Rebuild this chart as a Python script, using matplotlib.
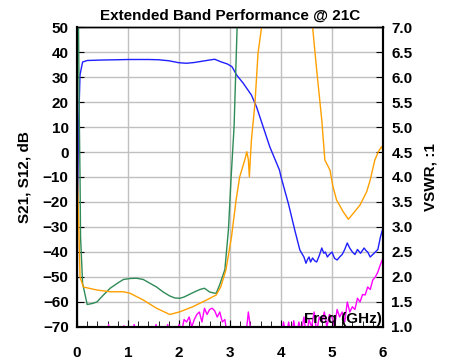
import numpy as np
import matplotlib.pyplot as plt
from matplotlib.ticker import MultipleLocator

plt.rcParams['font.family'] = ['Liberation Sans', 'DejaVu Sans']
plt.rcParams['font.weight'] = 'bold'

# S21 gain (dB, left axis)
s21_f = [0.0, 0.01, 0.03, 0.06, 0.11, 0.2, 0.5, 0.8, 1.0, 1.2, 1.4, 1.6, 1.8, 1.9, 2.0,
         2.15, 2.3, 2.45, 2.6, 2.7, 2.82, 2.95, 3.04, 3.13, 3.26, 3.42, 3.52, 3.65, 3.78,
         3.97, 4.0, 4.15, 4.27, 4.37, 4.45, 4.49, 4.52, 4.55, 4.58, 4.62, 4.66, 4.7, 4.75,
         4.8, 4.84, 4.87, 4.91, 4.94, 5.0, 5.05, 5.1, 5.15, 5.2, 5.25, 5.3, 5.35, 5.4, 5.45,
         5.5, 5.56, 5.63, 5.67, 5.7, 5.75, 5.8, 5.85, 5.9, 5.95, 6.0]
s21_db = [-75, -30, 10, 31, 36, 36.6, 36.8, 36.9, 37, 37, 37, 36.9, 36.5, 36.1, 35.7,
          35.5, 35.8, 36.3, 36.8, 37.1, 36.1, 35.2, 34.1, 30.8, 27.5, 22.8, 18.1, 10.1, 2.1,
          -7.2, -9.9, -21, -31.2, -39.2, -42, -44.5, -43, -42, -44, -42.4, -43.5, -44, -41.5,
          -38.4, -40.5, -40, -42, -41.2, -40, -42.5, -43.2, -42, -41, -39, -36.4, -38.5, -40,
          -41, -39, -40.5, -38.4, -39.5, -40, -42, -41, -40, -39, -34, -30.4]

# Input VSWR (green, right axis)
vswr_in_f = [0.0, 0.03, 0.045, 0.06, 0.07, 0.11, 0.2, 0.3, 0.39, 0.5, 0.65, 0.8, 0.91, 1.04,
             1.17, 1.3, 1.43, 1.56, 1.69, 1.82, 1.92, 2.02, 2.1, 2.2, 2.3, 2.41, 2.5, 2.6,
             2.68, 2.73, 2.8, 2.9, 2.97, 3.02, 3.08, 3.14, 3.18]
vswr_in = [7.6, 7.0, 5.2, 3.95, 2.8, 1.875, 1.45, 1.47, 1.5, 1.62, 1.775, 1.88, 1.95, 1.97,
           1.975, 1.95, 1.875, 1.8, 1.7, 1.62, 1.58, 1.575, 1.6, 1.65, 1.7, 1.75, 1.775, 1.7,
           1.68, 1.675, 1.85, 2.15, 2.95, 3.95, 5.0, 7.0, 7.6]

# Output VSWR (orange, right axis)
vswr_out_f = [0.0, 0.005, 0.01, 0.06, 0.125, 0.39, 0.65, 0.91, 1.04, 1.3, 1.56, 1.82,
              2.02, 2.27, 2.54, 2.73, 2.82, 2.92, 3.03, 3.12, 3.19, 3.29, 3.33, 3.36, 3.38,
              3.42, 3.49, 3.55, 3.62, 3.7, 4.5, 4.62, 4.7, 4.8, 4.86, 4.96, 5.02, 5.09, 5.22,
              5.32, 5.42, 5.55, 5.68, 5.75, 5.84, 5.91, 5.97, 6.0]
vswr_out = [7.6, 7.0, 4.0, 2.0, 1.8, 1.74, 1.705, 1.705, 1.675, 1.54, 1.375, 1.25,
            1.305, 1.405, 1.54, 1.64, 1.805, 2.14, 2.805, 3.54, 4.0, 4.34, 4.505, 4.35, 4.005,
            4.74, 5.475, 6.475, 7.0, 7.6, 7.8, 7.0, 6.14, 5.14, 4.34, 4.14, 3.805, 3.54, 3.305,
            3.155, 3.275, 3.44, 3.705, 3.94, 4.34, 4.505, 4.605, 4.54]

# S12 isolation (magenta, left axis)
s12_f = [0.0, 0.6, 0.62, 0.64, 0.9, 0.92, 0.94, 1.0, 1.1, 1.12, 1.2, 1.3, 1.5, 1.55, 1.6,
         1.7, 1.78, 1.8, 1.9, 1.95, 2.0, 2.05, 2.1, 2.15, 2.2, 2.25, 2.3, 2.35, 2.4, 2.45,
         2.5, 2.55, 2.6, 2.65, 2.7, 2.75, 2.8, 2.85, 2.9, 2.95, 3.0, 3.3, 3.34, 3.36, 3.38,
         3.42, 3.5, 4.0, 4.05, 4.1, 4.15, 4.2, 4.25, 4.3, 4.35, 4.4, 4.45, 4.5, 4.55, 4.6,
         4.65, 4.7, 4.75, 4.8, 4.85, 4.9, 4.95, 5.0, 5.05, 5.1, 5.15, 5.2, 5.25, 5.3, 5.35,
         5.4, 5.45, 5.5, 5.55, 5.6, 5.65, 5.7, 5.75, 5.8, 5.85, 5.9, 5.95, 6.0]
s12_db = [-74, -74, -69, -74, -74, -69.5, -74, -74, -74, -69, -74, -74, -74, -69, -74,
          -74, -69, -74, -70, -74, -69, -72, -67, -68, -66, -70, -67, -65, -64, -68,
          -62.5, -65, -63, -62.5, -63.5, -66, -64, -68, -67, -74, -74, -74, -68, -64, -67,
          -74, -74, -74, -68, -74, -68, -74, -67.5, -74, -68, -72, -66, -74, -67, -70,
          -64, -72, -66, -68, -64, -70, -65, -66, -70, -63, -66, -64, -68, -60, -64,
          -61.9, -63, -58.5, -60, -57, -57.2, -54, -55, -51.2, -50, -48, -45, -42.5]

fig = plt.figure(figsize=(4.55, 3.62), dpi=100)
ax = fig.add_axes([0.1692, 0.0967, 0.6725, 0.8287])
ax2 = ax.twinx()

ax.plot(s21_f, s21_db, color='#1f1fff', lw=1.0, zorder=3)
ax.plot(s12_f, s12_db, color='#ff00ff', lw=1.0, zorder=3)
ax2.plot(vswr_in_f, vswr_in, color='#2e8b57', lw=1.0)
ax2.plot(vswr_out_f, vswr_out, color='#ffa000', lw=1.0)

ax.set_xlim(0, 6)
ax.set_ylim(-70, 50)
ax2.set_ylim(1.0, 7.0)
ax.xaxis.set_major_locator(MultipleLocator(1))
ax.xaxis.set_minor_locator(MultipleLocator(0.2))
ax.yaxis.set_major_locator(MultipleLocator(10))
ax2.yaxis.set_major_locator(MultipleLocator(0.5))
ax2.yaxis.set_major_formatter(plt.FormatStrFormatter('%.1f'))

ax.grid(True, which='major', color='#c0c0c0', lw=1.0)
ax.set_axisbelow(True)

ax.tick_params(axis='x', which='major', direction='in', length=5, pad=14, labelsize=11)
ax.tick_params(axis='x', which='minor', direction='in', length=4)
ax.tick_params(axis='y', direction='in', length=5, pad=6, labelsize=11)
ax2.tick_params(axis='y', direction='in', length=5, pad=6, labelsize=11)

for a in (ax, ax2):
    for s in a.spines.values():
        s.set_linewidth(1.5)
    a.spines['top'].set_linewidth(1.0)

ax.set_title('Extended Band Performance @ 21C', fontsize=11, fontweight='bold', pad=5)
ax.set_ylabel('S21, S12, dB', fontsize=11, fontweight='bold', labelpad=8)
ax2.set_ylabel('VSWR, :1', fontsize=11, fontweight='bold', labelpad=8)
ax.text(5.98, -69.5, 'Freq (GHz)', ha='right', va='bottom', fontsize=11, fontweight='bold', zorder=5)

fig.savefig('out.png', dpi=100)
